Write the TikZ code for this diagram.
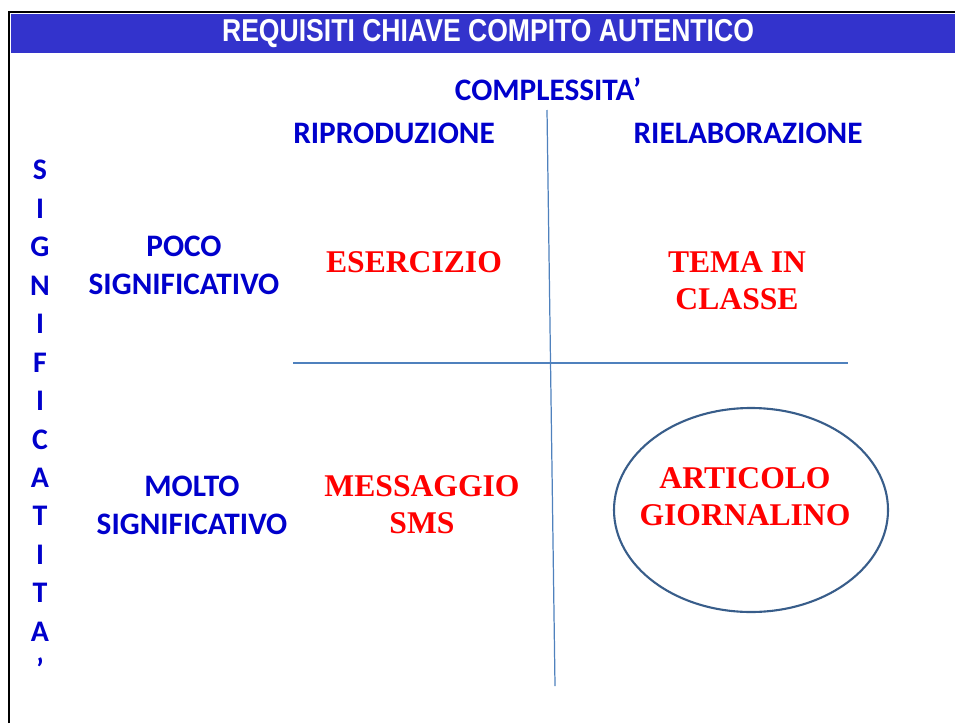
\documentclass[tikz,border=0pt]{standalone}
\usepackage{fontspec}
\usepackage{tikz}
\setmainfont{Liberation Serif}
\newfontfamily\calibri{Carlito}
\newfontfamily\narrowsans[FakeStretch=0.84]{Liberation Sans}

\definecolor{headblue}{RGB}{51,51,204}
\definecolor{labelblue}{RGB}{0,0,204}
\definecolor{axisblue}{RGB}{79,129,189}
\definecolor{ringblue}{RGB}{56,93,138}

\tikzset{
  axislabel/.style={text=labelblue, font=\calibri\bfseries\fontsize{17.8}{21.5}\selectfont, align=center, inner sep=0pt},
  compito/.style={text=red, font=\bfseries\fontsize{18}{21}\selectfont, align=center, inner sep=0pt},
  axisline/.style={draw=axisblue, line width=0.7pt}
}

\begin{document}
\begin{tikzpicture}[x={(0.02cm,0)}, y={(0,-0.02cm)}]
      \useasboundingbox (0,0) rectangle (955,723);

      % Frame and title bar
      \fill[headblue] (11,14) rectangle (955,53);
      \draw[line width=1.6pt] (9,723) -- (9,12) -- (955,12);
      \node[text=white, font=\narrowsans\bfseries\fontsize{18}{20}\selectfont, inner sep=0pt] (title) at (488,34) {REQUISITI CHIAVE COMPITO AUTENTICO};

      % Axis titles
      \node[axislabel] (compl) at (548,89) {COMPLESSITA’};
      \node[axislabel] (riprod) at (394,133) {RIPRODUZIONE};
      \node[axislabel] (rielab) at (748,133) {RIELABORAZIONE};
      \node[axislabel, font=\calibri\bfseries\fontsize{17}{21.9}\selectfont] (signif) at (40,420)
        {S\\I\\G\\N\\I\\F\\I\\C\\A\\T\\I\\T\\A\\’};

      % Row labels
      \node[axislabel] (poco) at (184,265) {POCO\\SIGNIFICATIVO};
      \node[axislabel] (molto) at (192,505) {MOLTO\\SIGNIFICATIVO};

      % Axes of the grid
      \coordinate (top) at (547,110);
      \coordinate (bottom) at (555,686);
      \coordinate (left) at (293,363);
      \coordinate (right) at (848,363);
      \draw[axisline] (top) -- (bottom);
      \draw[axisline] (left) -- (right);

      % The four tasks
      \node[compito] (eserc) at (414,262) {ESERCIZIO};
      \node[compito] (tema) at (737,281) {TEMA IN\\CLASSE};
      \node[compito] (sms) at (422,505) {MESSAGGIO\\SMS};
      \node[compito] (artic) at (745,497) {ARTICOLO\\GIORNALINO};

      % Ring round the authentic task
      \draw[ringblue, line width=1.2pt] (751,510) ellipse (137 and 102);
    \end{tikzpicture}
\end{document}
